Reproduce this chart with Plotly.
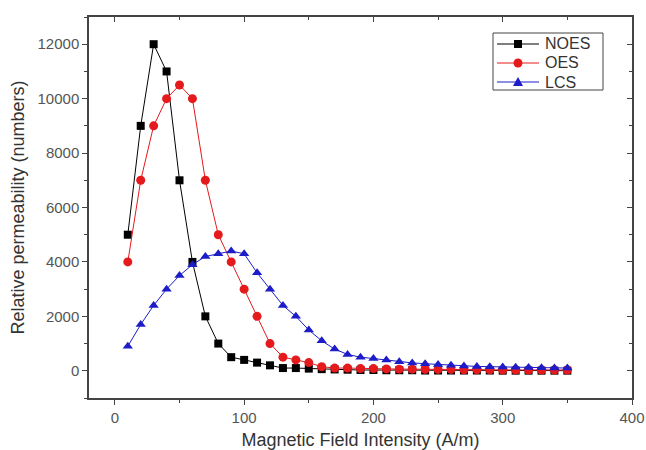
import plotly.graph_objects as go

# Magnetic field intensity (A/m)
field = [10, 20, 30, 40, 50, 60, 70, 80, 90, 100, 110, 120, 130, 140, 150, 160, 170, 180,
         190, 200, 210, 220, 230, 240, 250, 260, 270, 280, 290, 300, 310, 320, 330, 340, 350]

# Relative permeability for each sample
noes = [5000, 9000, 12000, 11000, 7000, 4000, 2000, 1000, 500, 400, 300, 200, 100, 100, 80, 60,
        50, 40, 30, 30, 20, 20, 20, 10, 10, 10, 10, 10, 10, 5, 5, 5, 5, 5, 5]
oes = [4000, 7000, 9000, 10000, 10500, 10000, 7000, 5000, 4000, 3000, 2000, 1000, 500, 400, 300,
       150, 100, 100, 80, 80, 70, 60, 60, 50, 50, 50, 40, 40, 40, 30, 30, 30, 30, 30, 30]
lcs = [900, 1700, 2400, 3000, 3500, 3900, 4200, 4300, 4400, 4300, 3600, 3000, 2400, 2000, 1500,
       1100, 800, 600, 500, 450, 400, 330, 290, 260, 230, 200, 180, 160, 150, 140, 130, 120, 110,
       100, 100]

series_names = ["NOES", "OES", "LCS"]

X_RANGE = [-20, 400]
Y_RANGE = [-1000, 13000]

FONT = "Liberation Sans, Arial, sans-serif"
AXIS_COL = "#444444"

styles = [
    dict(color="#000000", symbol="square", size=8),
    dict(color="#e41a1c", symbol="circle", size=9),
    dict(color="#1c1cc8", symbol="triangle-up", size=9),
]

fig = go.Figure()
for name, vals, st in zip(series_names, [noes, oes, lcs], styles):
    fig.add_trace(go.Scatter(
        x=field, y=vals, name=name, mode="lines+markers", showlegend=False,
        line=dict(color=st["color"], width=1),
        marker=dict(color=st["color"], symbol=st["symbol"], size=st["size"], line=dict(width=0)),
    ))

# empty trace so the mirrored top/right frame axes get drawn
fig.add_trace(go.Scatter(x=[None], y=[None], xaxis="x2", yaxis="y2", showlegend=False,
                         hoverinfo="skip", mode="markers"))

# ---- boxed legend in the upper right corner ----
W_PLOT, H_PLOT = 543, 381           # plot area size in px
def px_x(p):                         # px offset from plot left -> paper fraction
    return p / W_PLOT
def px_y(p):                         # px offset from plot top -> paper fraction
    return 1 - p / H_PLOT

ROW0, ROW_GAP = 27, 19
box_l, box_r, box_t, box_b = 404, 514, 16, 73
fig.add_shape(type="rect", xref="paper", yref="paper",
              x0=px_x(box_l), x1=px_x(box_r), y0=px_y(box_b), y1=px_y(box_t),
              line=dict(color=AXIS_COL, width=1), fillcolor="white", layer="above")

tri = "M -5,-4 L 5,-4 L 0,5 Z"
for i, (name, st) in enumerate(zip(series_names, styles)):
    yc = px_y(ROW0 + ROW_GAP * i)
    fig.add_shape(type="line", xref="paper", yref="paper",
                  x0=px_x(408), x1=px_x(450), y0=yc, y1=yc,
                  line=dict(color=st["color"], width=1), layer="above")
    cx = px_x(429)
    if st["symbol"] == "square":
        fig.add_shape(type="rect", xref="paper", yref="paper", xsizemode="pixel",
                      ysizemode="pixel", xanchor=cx, yanchor=yc, x0=-4, x1=4, y0=-4, y1=4,
                      fillcolor=st["color"], line=dict(width=0), layer="above")
    elif st["symbol"] == "circle":
        fig.add_shape(type="circle", xref="paper", yref="paper", xsizemode="pixel",
                      ysizemode="pixel", xanchor=cx, yanchor=yc, x0=-4.5, x1=4.5, y0=-4.5,
                      y1=4.5, fillcolor=st["color"], line=dict(width=0), layer="above")
    else:
        fig.add_shape(type="path", xref="paper", yref="paper", xsizemode="pixel",
                      ysizemode="pixel", xanchor=cx, yanchor=yc, path=tri,
                      fillcolor=st["color"], line=dict(width=0), layer="above")
    fig.add_annotation(text=name, xref="paper", yref="paper", x=px_x(455), y=yc,
                       xanchor="left", yanchor="middle", showarrow=False, borderpad=0,
                       font=dict(family=FONT, size=16, color="#333333"))

tickfont = dict(family=FONT, size=15, color="#555555")
common = dict(showgrid=False, zeroline=False, showline=True, linecolor=AXIS_COL, linewidth=1.5,
              tickcolor=AXIS_COL, tickwidth=1.2, automargin=False)

fig.update_layout(
    width=646, height=450,
    margin=dict(l=89, r=14, t=17, b=52),
    paper_bgcolor="white", plot_bgcolor="white",
    font=dict(family=FONT, color="#333333"),
    showlegend=False,
    xaxis=dict(range=X_RANGE, tick0=0, dtick=100, ticks="outside", ticklen=5,
               minor=dict(dtick=50, ticks="outside", ticklen=3, tickcolor=AXIS_COL),
               tickfont=tickfont,
               title=dict(text="Magnetic Field Intensity (A/m)", standoff=10,
                          font=dict(family=FONT, size=18, color="#333333")),
               **common),
    yaxis=dict(range=Y_RANGE, tick0=0, dtick=2000, ticks="outside", ticklen=5,
               tickformat="d",
               minor=dict(dtick=1000, ticks="outside", ticklen=3, tickcolor=AXIS_COL),
               tickfont=tickfont,
               title=dict(text="Relative permeability (numbers)", standoff=8,
                          font=dict(family=FONT, size=18, color="#333333")),
               **common),
    xaxis2=dict(overlaying="x", side="top", anchor="y2", range=X_RANGE, tick0=0, dtick=100,
                ticks="inside", ticklen=5, showticklabels=False,
                minor=dict(dtick=50, ticks="inside", ticklen=3, tickcolor=AXIS_COL),
                **common),
    yaxis2=dict(overlaying="y", side="right", anchor="x2", range=Y_RANGE, tick0=0,
                dtick=2000, ticks="inside", ticklen=5, showticklabels=False,
                minor=dict(dtick=1000, ticks="inside", ticklen=3, tickcolor=AXIS_COL),
                **common),
)

fig.write_html("out.html")
